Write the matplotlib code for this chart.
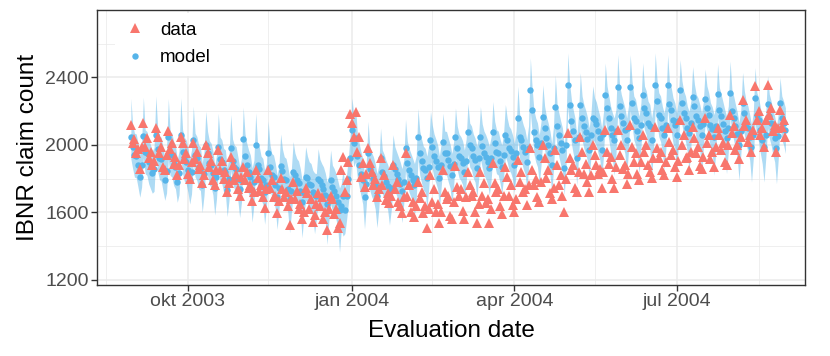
import numpy as np
import pandas as pd
import matplotlib
matplotlib.use('Agg')
import matplotlib.pyplot as plt

plt.rcParams['font.family'] = ['Liberation Sans', 'DejaVu Sans']

# daily values, one row per week (Saturday .. Friday), first day 2003-08-30
first_day = '2003-08-30'

model = [
    2047, 1990, 1940, 1935, 1880, 1810, 1880,
    2053, 1960, 1950, 1900, 1871, 1834, 1855,
    2060, 1975, 1925, 1915, 1858, 1792, 1845,
    2045, 1950, 1940, 1890, 1870, 1780, 1835,
    2059, 1960, 1915, 1900, 1850, 1790, 1840,
    2030, 1940, 1920, 1870, 1860, 1760, 1830,
    2000, 1950, 1895, 1880, 1834, 1745, 1810,
    1988, 1917, 1900, 1850, 1840, 1735, 1800,
    1980, 1905, 1870, 1860, 1800, 1740, 1790,
    2035, 1935, 1880, 1840, 1810, 1733, 1780,
    2000, 1880, 1860, 1804, 1790, 1720, 1760,
    1952, 1870, 1820, 1810, 1760, 1690, 1745,
    1875, 1845, 1800, 1790, 1740, 1680, 1730,
    1840, 1822, 1790, 1775, 1730, 1660, 1715,
    1810, 1804, 1770, 1760, 1720, 1704, 1700,
    1798, 1785, 1760, 1740, 1704, 1650, 1690,
    1790, 1750, 1730, 1700, 1660, 1615, 1640,
    1700, 1615, 1700, 1800, 1925, 2089, 2012,
    2040, 1935, 1880, 1830, 1790, 1692, 1770,
    1950, 1860, 1825, 1800, 1760, 1700, 1750,
    1920, 1840, 1815, 1780, 1755, 1715, 1745,
    1881, 1860, 1830, 1800, 1770, 1730, 1780,
    1982, 1893, 1850, 1820, 1790, 1760, 1805,
    2047, 1952, 1905, 1863, 1850, 1804, 1870,
    2030, 1988, 1935, 1905, 1870, 1804, 1880,
    2018, 1952, 1950, 1910, 1875, 1820, 1890,
    2050, 1982, 1935, 1920, 1895, 1840, 1905,
    2077, 2000, 1982, 1935, 1910, 1863, 1925,
    2047, 1995, 1952, 1930, 1900, 1863, 1920,
    2077, 2010, 1960, 1952, 1905, 1870, 1940,
    2060, 2030, 1982, 1965, 1930, 1880, 1955,
    2160, 2050, 2030, 1990, 1960, 1900, 1985,
    2326, 2207, 2077, 2030, 2000, 1930, 2010,
    2166, 2100, 2040, 2000, 1952, 1880, 1985,
    2225, 2110, 2060, 2012, 1970, 1863, 2000,
    2356, 2237, 2140, 2080, 2030, 1923, 2050,
    2237, 2160, 2110, 2077, 2035, 1970, 2060,
    2160, 2150, 2125, 2080, 2040, 1970, 2065,
    2296, 2219, 2160, 2100, 2060, 2030, 2080,
    2345, 2230, 2170, 2130, 2090, 2030, 2100,
    2345, 2250, 2160, 2140, 2085, 2040, 2120,
    2296, 2219, 2190, 2130, 2110, 2030, 2100,
    2356, 2260, 2180, 2160, 2100, 2060, 2120,
    2356, 2240, 2210, 2150, 2120, 2060, 2140,
    2326, 2250, 2190, 2160, 2100, 2070, 2130,
    2285, 2230, 2170, 2150, 2110, 2060, 2125,
    2270, 2220, 2180, 2120, 2095, 2050, 2110,
    2300, 2210, 2170, 2125, 2080, 2040, 2100,
    2308, 2200, 2160, 2110, 2065, 2000, 2080,
    2250, 2190, 2130, 2100, 2050, 1990, 2060,
    2279, 2180, 2150, 2090, 2030, 1990, 2060,
    2240, 2170, 2130, 2080, 2040, 1980, 2055,
    2250, 2160, 2130, 2090,
]

observed = [
    2119, 2010, 2035, 1950, 1975, 1860, 1990,
    2132, 1990, 2040, 1925, 1960, 1881, 1905,
    2099, 2045, 1950, 1990, 1870, 1852, 1940,
    2085, 1975, 2010, 1890, 1930, 1822, 1880,
    2050, 2010, 1915, 1950, 1830, 1800, 1900,
    2012, 1915, 1960, 1860, 1880, 1775, 1820,
    2000, 1950, 1870, 1905, 1790, 1763, 1850,
    1970, 1850, 1905, 1800, 1840, 1722, 1775,
    1930, 1880, 1790, 1828, 1740, 1700, 1810,
    1870, 1790, 1840, 1745, 1760, 1670, 1720,
    1852, 1805, 1730, 1760, 1690, 1627, 1740,
    1852, 1745, 1790, 1690, 1700, 1597, 1670,
    1804, 1740, 1690, 1720, 1640, 1526, 1680,
    1781, 1680, 1730, 1620, 1650, 1560, 1600,
    1745, 1715, 1620, 1680, 1544, 1587, 1650,
    1715, 1640, 1690, 1560, 1600, 1497, 1620,
    1700, 1680, 1590, 1620, 1510, 1540, 1852,
    1930, 1720, 1790, 1900, 2185, 2130, 2048,
    2195, 1960, 2050, 1810, 1893, 1750, 1830,
    1982, 1893, 1840, 1760, 1800, 1690, 1740,
    1923, 1760, 1820, 1674, 1715, 1656, 1700,
    1880, 1740, 1780, 1660, 1640, 1597, 1690,
    1952, 1700, 1760, 1603, 1660, 1573, 1640,
    1780, 1686, 1720, 1597, 1640, 1508, 1620,
    1820, 1660, 1740, 1600, 1650, 1540, 1600,
    1850, 1720, 1680, 1700, 1580, 1560, 1660,
    1875, 1750, 1700, 1740, 1610, 1560, 1690,
    1840, 1760, 1700, 1720, 1600, 1537, 1650,
    1840, 1700, 1775, 1656, 1680, 1537, 1620,
    1893, 1775, 1720, 1740, 1640, 1590, 1700,
    1870, 1810, 1700, 1760, 1645, 1600, 1680,
    1911, 1780, 1840, 1720, 1740, 1645, 1760,
    1982, 1850, 1760, 1800, 1690, 1660, 1780,
    2000, 1923, 1804, 1850, 1715, 1680, 1745,
    1970, 1880, 1760, 1820, 1700, 1603, 1800,
    2071, 1923, 1850, 1880, 1745, 1720, 1840,
    2047, 1960, 1830, 1890, 1780, 1720, 1820,
    2000, 1940, 1880, 1830, 1860, 1745, 1840,
    2089, 1960, 1890, 1930, 1800, 1745, 1870,
    2089, 1940, 2000, 1860, 1880, 1770, 1830,
    2119, 1990, 1900, 1950, 1830, 1790, 1900,
    2059, 1960, 2000, 1880, 1840, 1804, 1920,
    2107, 1980, 1920, 1960, 1850, 1820, 1900,
    2100, 2018, 1940, 1970, 1870, 1811, 1905,
    2148, 2000, 2060, 1920, 1930, 1850, 1960,
    2107, 2040, 1950, 1990, 1875, 1860, 1930,
    2160, 2010, 2060, 1917, 1960, 1870, 1990,
    2100, 2060, 1970, 2010, 1900, 1881, 2000,
    2178, 2070, 2110, 1970, 2000, 1917, 2050,
    2267, 2110, 2150, 2020, 2060, 1960, 2090,
    2350, 2148, 2200, 2060, 2100, 1990, 2150,
    2356, 2180, 2220, 2080, 2120, 1958, 2100,
    2207, 2107, 2150, 2047,
]

# distance from the model to the upper / lower edge of the band
band_up = [
    230, 130, 130, 130, 130, 130, 130,
    230, 130, 130, 130, 130, 130, 130,
    230, 130, 130, 130, 130, 130, 130,
    230, 130, 130, 130, 130, 130, 130,
    220, 130, 130, 130, 130, 130, 130,
    200, 130, 130, 130, 130, 130, 130,
    200, 130, 130, 130, 130, 130, 130,
    200, 130, 130, 130, 130, 130, 130,
    200, 130, 130, 130, 130, 130, 130,
    190, 130, 130, 130, 130, 130, 130,
    190, 130, 130, 130, 130, 130, 130,
    190, 130, 130, 130, 130, 130, 130,
    190, 130, 130, 130, 130, 130, 130,
    180, 130, 130, 130, 130, 130, 130,
    180, 130, 130, 130, 130, 130, 130,
    180, 130, 130, 130, 130, 130, 130,
    180, 130, 130, 130, 130, 130, 130,
    160, 130, 130, 130, 140, 190, 160,
    190, 130, 130, 130, 130, 130, 130,
    190, 130, 130, 130, 130, 130, 130,
    180, 130, 130, 130, 130, 130, 130,
    180, 130, 130, 130, 130, 130, 130,
    170, 130, 130, 130, 130, 130, 130,
    170, 130, 130, 130, 130, 130, 130,
    170, 130, 130, 130, 130, 130, 130,
    170, 130, 130, 130, 130, 130, 130,
    170, 130, 130, 130, 130, 130, 130,
    170, 130, 130, 130, 130, 130, 130,
    180, 130, 130, 130, 130, 130, 130,
    180, 130, 130, 130, 130, 130, 130,
    180, 130, 130, 130, 130, 130, 130,
    190, 130, 130, 130, 130, 130, 130,
    190, 130, 130, 130, 130, 130, 130,
    190, 130, 130, 130, 130, 130, 130,
    190, 130, 130, 130, 130, 130, 130,
    190, 130, 130, 130, 130, 130, 130,
    190, 130, 130, 130, 130, 130, 130,
    190, 130, 130, 130, 130, 130, 130,
    190, 130, 130, 130, 130, 130, 130,
    190, 130, 130, 130, 130, 130, 130,
    190, 130, 130, 130, 130, 130, 130,
    190, 130, 130, 130, 130, 130, 130,
    190, 130, 130, 130, 130, 130, 130,
    180, 130, 130, 130, 130, 130, 130,
    180, 130, 130, 130, 130, 130, 130,
    180, 130, 130, 130, 130, 130, 130,
    180, 130, 130, 130, 130, 130, 130,
    180, 130, 130, 130, 130, 130, 130,
    190, 130, 130, 130, 130, 130, 130,
    180, 130, 130, 130, 130, 130, 130,
    180, 130, 130, 130, 130, 130, 130,
    170, 130, 130, 130, 130, 130, 130,
    150, 130, 130, 130,
]

band_lo = [
    130, 130, 130, 130, 130, 120, 130,
    130, 130, 130, 130, 130, 120, 130,
    130, 130, 130, 130, 130, 120, 130,
    130, 130, 130, 130, 130, 120, 130,
    130, 130, 130, 130, 130, 140, 130,
    130, 130, 130, 130, 130, 160, 130,
    130, 130, 130, 130, 130, 160, 130,
    130, 130, 130, 130, 130, 160, 130,
    130, 130, 130, 130, 130, 170, 130,
    130, 130, 130, 130, 140, 190, 130,
    130, 130, 130, 130, 140, 190, 130,
    130, 130, 130, 130, 140, 190, 130,
    130, 130, 130, 130, 140, 200, 130,
    130, 130, 130, 130, 140, 210, 130,
    140, 140, 140, 140, 150, 230, 140,
    140, 140, 140, 140, 150, 240, 140,
    140, 140, 140, 140, 150, 250, 140,
    240, 140, 140, 140, 140, 140, 140,
    140, 130, 130, 130, 140, 190, 130,
    140, 130, 130, 130, 140, 190, 130,
    140, 130, 130, 130, 140, 190, 130,
    140, 130, 130, 130, 140, 190, 130,
    130, 130, 130, 130, 130, 180, 130,
    130, 130, 130, 130, 130, 180, 130,
    130, 130, 130, 130, 130, 180, 130,
    130, 130, 130, 130, 130, 180, 130,
    130, 130, 130, 130, 130, 180, 130,
    130, 130, 130, 130, 130, 170, 130,
    130, 130, 130, 130, 130, 160, 130,
    130, 130, 130, 130, 130, 160, 130,
    130, 130, 130, 130, 130, 160, 130,
    130, 130, 130, 130, 130, 160, 130,
    130, 130, 130, 130, 130, 160, 130,
    130, 130, 130, 130, 130, 160, 130,
    130, 130, 130, 130, 130, 160, 130,
    130, 130, 130, 130, 130, 160, 130,
    130, 130, 130, 130, 130, 160, 130,
    130, 130, 130, 130, 130, 170, 130,
    140, 130, 130, 140, 140, 210, 140,
    140, 130, 130, 140, 140, 210, 140,
    140, 130, 130, 140, 140, 210, 140,
    140, 130, 130, 140, 140, 210, 140,
    140, 130, 130, 140, 140, 210, 140,
    140, 130, 130, 140, 140, 230, 140,
    140, 130, 130, 140, 140, 230, 140,
    140, 130, 130, 140, 140, 230, 140,
    140, 130, 130, 140, 140, 230, 140,
    140, 130, 130, 140, 140, 210, 140,
    140, 130, 130, 140, 140, 210, 140,
    140, 130, 130, 140, 140, 210, 140,
    140, 130, 130, 140, 140, 210, 140,
    140, 130, 130, 140, 140, 210, 140,
    140, 130, 130, 140,
]

x_ticks = ['2003-10-01', '2004-01-01', '2004-04-01', '2004-07-01']
x_labels = ['okt 2003', 'jan 2004', 'apr 2004', 'jul 2004']
x_minor = ['2003-08-16', '2003-11-15', '2004-02-15', '2004-05-16', '2004-08-16']
y_ticks = [1200, 1600, 2000, 2400]
y_minor = [1400, 1800, 2200, 2600]

red = '#F8766D'
blue = '#56B4E9'

dates = pd.date_range(first_day, periods=len(observed), freq='D')
m = np.array(model, dtype=float)
upper = m + np.array(band_up)
lower = m - np.array(band_lo)

fig = plt.figure(figsize=(8.3, 3.56), dpi=100)
ax = fig.add_axes([97 / 830, 1 - 285 / 356, 708 / 830, 275 / 356])

ax.fill_between(dates, lower, upper, color=blue, alpha=0.48, lw=0, zorder=2)
ax.plot(dates, m, 'o', color=blue, ms=4.6, mew=0, zorder=3, label='model')
ax.plot(dates, observed, '^', color=red, ms=7.5, mew=0, zorder=4, label='data')

# axes ranges
ax.set_xlim(pd.Timestamp('2003-08-11'), pd.Timestamp('2004-09-11'))
ax.set_ylim(1170, 2800)

ax.set_xticks(pd.to_datetime(x_ticks))
ax.set_xticklabels(x_labels)
ax.set_xticks(pd.to_datetime(x_minor), minor=True)
ax.set_yticks(y_ticks)
ax.set_yticks(y_minor, minor=True)

# theme_bw look
ax.set_facecolor('white')
ax.grid(True, which='major', color='#EBEBEB', lw=1.1, zorder=0)
ax.grid(True, which='minor', color='#EBEBEB', lw=0.55, zorder=0)
ax.set_axisbelow(True)
for sp in ax.spines.values():
    sp.set_color('#333333')
    sp.set_linewidth(1.0)
ax.tick_params(which='major', length=4, width=1.0, color='#333333',
               labelsize=14, labelcolor='#4D4D4D', pad=2)
ax.tick_params(which='minor', length=0)

ax.set_xlabel('Evaluation date', fontsize=17.5, labelpad=7)
ax.set_ylabel('IBNR claim count', fontsize=17.5, labelpad=4)

handles, labels = ax.get_legend_handles_labels()
leg = ax.legend(handles[::-1], labels[::-1], loc='upper left', bbox_to_anchor=(0.012, 1.025),
                frameon=True, fontsize=13.5, handletextpad=0.7, labelspacing=0.55,
                borderpad=0.5, handlelength=1.2)
leg.get_frame().set_facecolor('white')
leg.get_frame().set_edgecolor('none')
leg.get_frame().set_alpha(1)
leg.get_frame().set_boxstyle('square', pad=0)

fig.savefig('out.png', dpi=100)
